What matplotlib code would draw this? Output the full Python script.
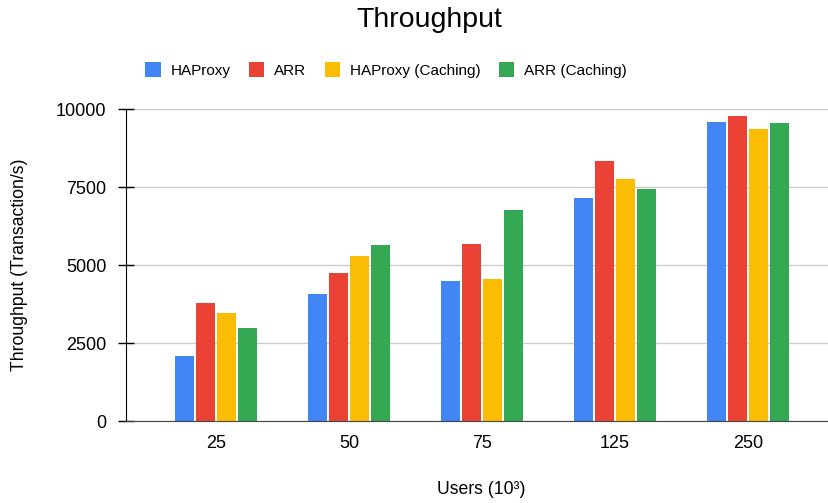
import matplotlib.pyplot as plt
import numpy as np

plt.rcParams['font.family'] = ['Liberation Sans', 'DejaVu Sans']

users = ['25', '50', '75', '125', '250']
haproxy = [2090, 4075, 4500, 7160, 9590]
arr = [3785, 4755, 5680, 8335, 9785]
haproxy_caching = [3460, 5300, 4555, 7770, 9350]
arr_caching = [2980, 5655, 6775, 7440, 9545]

series = [('HAProxy', haproxy, '#4285F4'),
          ('ARR', arr, '#EA4335'),
          ('HAProxy (Caching)', haproxy_caching, '#FBBC04'),
          ('ARR (Caching)', arr_caching, '#34A853')]

fig = plt.figure(figsize=(8.29, 5.03), dpi=100)
ax = fig.add_axes([126/829, 1 - 421/503, (828-126)/829, (421-109)/503])

x = np.arange(len(users))
slot = 0.16
for k, (name, vals, col) in enumerate(series):
    ax.bar(x + (k - 1.5) * slot, vals, width=0.143, color=col, label=name, zorder=3)

ax.set_xlim(-0.677, 4.602)
ax.set_ylim(0, 10000)
ax.set_yticks([0, 2500, 5000, 7500, 10000])
ax.set_xticks(x)
ax.set_xticklabels(users)
ax.yaxis.grid(True, color='#cccccc', linewidth=1, zorder=0)
ax.tick_params(axis='y', direction='inout', length=12.2, width=1, pad=8, labelsize=13, colors='black')
ax.tick_params(axis='x', length=0, pad=10, labelsize=13)
for s in ['top', 'right']:
    ax.spines[s].set_visible(False)
ax.spines['left'].set_color('black')
ax.spines['bottom'].set_color('#444444')
ax.spines['bottom'].set_zorder(4)

fig.text(429/829, 1 - 20/503, 'Throughput', ha='center', va='center', fontsize=20.5)
fig.text(20/829, 1 - 265/503, 'Throughput (Transaction/s)', rotation=90,
         ha='center', va='center', fontsize=12.7)
fig.text(481/829, 1 - 489/503, 'Users (10³)', ha='center', va='center', fontsize=12.7)

fig.legend(loc='center', bbox_to_anchor=(386/829, 1 - 70/503), ncol=4, frameon=False,
           fontsize=11, handlelength=1.0, handleheight=1.1, handletextpad=0.65,
           columnspacing=1.2)

fig.savefig('out.png', dpi=100)
